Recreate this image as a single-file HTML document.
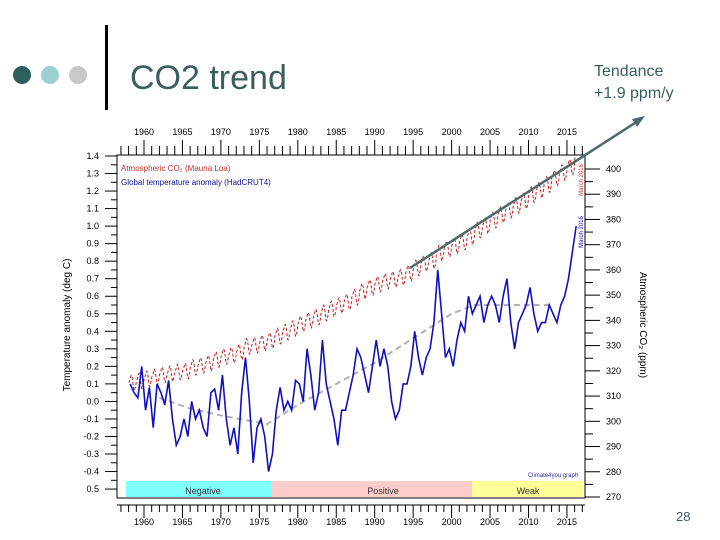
<!DOCTYPE html>
<html><head><meta charset="utf-8"><style>
body{margin:0;background:#fff;}
svg{display:block;font-family:"Liberation Sans",sans-serif;}
</style></head><body>
<svg id="s" width="720" height="540" viewBox="0 0 720 540">
<circle cx="22" cy="75" r="9" fill="#2e5e5e"/>
<circle cx="50" cy="75" r="9" fill="#9ccfd0"/>
<circle cx="78" cy="75" r="9" fill="#c8c8c8"/>
<rect x="105" y="25" width="3" height="85" fill="#000"/>
<text x="130" y="89" font-size="34" fill="#3a5e5e">CO2 trend</text>
<text x="594" y="76" font-size="16" fill="#3a5e5e">Tendance</text>
<text x="594" y="98" font-size="16" fill="#3a5e5e">+1.9 ppm/y</text>
<text x="676" y="521" font-size="13" fill="#3a5e5e">28</text>

<rect x="117" y="155" width="468" height="343" fill="none" stroke="#000" stroke-width="1"/>
<rect x="126" y="481" width="145" height="16" fill="#80ffff"/>
<rect x="271" y="481" width="201" height="16" fill="#ffcccc"/>
<rect x="472" y="481" width="111" height="16" fill="#ffff99"/>
<text x="203" y="494" font-size="9" text-anchor="middle" fill="#333">Negative</text>
<text x="383" y="494" font-size="9" text-anchor="middle" fill="#333">Positive</text>
<text x="528" y="494" font-size="9" text-anchor="middle" fill="#333">Weak</text>
<line x1="117" y1="505" x2="585" y2="505" stroke="#000"/>

<text x="121" y="171" font-size="8" fill="#c03030">Atmospheric CO₂ (Mauna Loa)</text>
<text x="121" y="185" font-size="8" fill="#1010a0">Global temperature anomaly (HadCRUT4)</text>
<text x="553" y="477" font-size="6" fill="#3030a0" text-anchor="middle">Climate4you graph</text>
<text transform="translate(583,180) rotate(-90)" font-size="6" fill="#c03030" text-anchor="middle">March 2016</text>
<text transform="translate(583,232) rotate(-90)" font-size="6" fill="#1010a0" text-anchor="middle">March 2016</text>
<text transform="translate(70,325) rotate(-90)" font-size="10" fill="#000" text-anchor="middle">Temperature anomaly (deg C)</text>
<text transform="translate(640,325) rotate(90)" font-size="10" fill="#000" text-anchor="middle">Atmospheric CO₂ (ppm)</text>
<g id="ax"></g>
<g id="marks"></g>
<line x1="410" y1="268" x2="638" y2="121" stroke="#4a6a6a" stroke-width="2.5"/>
<polygon points="645,116 632,119 637,127" fill="#4a6a6a"/>
</svg>
<script>
const co2Years=[1958,1959,1960,1961,1962,1963,1964,1965,1966,1967,1968,1969,1970,1971,1972,1973,1974,1975,1976,1977,1978,1979,1980,1981,1982,1983,1984,1985,1986,1987,1988,1989,1990,1991,1992,1993,1994,1995,1996,1997,1998,1999,2000,2001,2002,2003,2004,2005,2006,2007,2008,2009,2010,2011,2012,2013,2014,2015,2016];
const co2Annual=[315.3,316.0,316.9,317.6,318.5,318.9,319.6,320.0,321.4,322.2,323.1,324.6,325.7,326.3,327.5,329.7,330.2,331.1,332.1,333.8,335.4,336.8,338.7,340.1,341.4,343.0,344.6,346.0,347.4,349.2,351.6,353.1,354.4,355.6,356.4,357.1,358.8,360.8,362.6,363.7,366.7,368.4,369.6,371.1,373.2,375.8,377.5,379.8,381.9,383.8,385.6,387.4,389.9,391.6,393.9,396.5,398.6,400.8,404.2];
const co2Seasonal=[0,0.6,1.4,2.5,3,2.4,0.9,-1.2,-3,-3.1,-1.9,-0.8];
const tempStart=1958;
const tempValues=[0.10,0.05,0.02,0.20,-0.05,0.08,-0.15,0.10,0.05,-0.02,0.12,-0.10,-0.25,-0.20,-0.10,-0.20,0.00,-0.10,-0.05,-0.15,-0.20,0.05,0.07,-0.05,0.15,-0.10,-0.25,-0.15,-0.30,0.05,0.25,0.00,-0.35,-0.15,-0.10,-0.20,-0.40,-0.30,-0.05,0.08,-0.05,0.00,-0.05,0.12,0.10,0.00,0.30,0.15,-0.05,0.05,0.35,0.10,0.00,-0.10,-0.25,-0.05,-0.05,0.05,0.15,0.30,0.25,0.15,0.05,0.20,0.35,0.20,0.30,0.20,0.00,-0.10,-0.05,0.10,0.10,0.20,0.40,0.25,0.15,0.25,0.30,0.45,0.75,0.50,0.25,0.30,0.20,0.35,0.45,0.40,0.60,0.50,0.55,0.60,0.45,0.55,0.60,0.55,0.45,0.60,0.70,0.45,0.30,0.45,0.50,0.55,0.65,0.50,0.40,0.45,0.45,0.55,0.50,0.45,0.55,0.60,0.70,0.85,1.00];
const trendYears=[1962,1966,1970,1976,1980,1985,1990,1995,2000,2003,2008,2013];
const trendValues=[0.02,-0.04,-0.08,-0.13,-0.02,0.10,0.22,0.36,0.50,0.55,0.55,0.55];
const leftTicks=[1.4,1.3,1.2,1.1,1.0,0.9,0.8,0.7,0.6,0.5,0.4,0.3,0.2,0.1,0.0,-0.1,-0.2,-0.3,-0.4,-0.5];
const leftLabels=["1.4","1.3","1.2","1.1","1.0","0.9","0.8","0.7","0.6","0.5","0.4","0.3","0.2","0.1","0.0","-0.1","-0.2","-0.3","-0.4","0.5"];
const rightTicks=[400,390,380,370,360,350,340,330,320,310,300,290,280,270];
const yearTicks=[1960,1965,1970,1975,1980,1985,1990,1995,2000,2005,2010,2015];

const X=y=>144+(y-1960)*7.69;
const YT=v=>156+(1.4-v)*175.3;
const YC=c=>169+(400-c)*2.523;
const NS='http://www.w3.org/2000/svg';
const ax=document.getElementById('ax'), mk=document.getElementById('marks');
function mkEl(tag,attrs,parent,txt){const e=document.createElementNS(NS,tag);for(const k in attrs)e.setAttribute(k,attrs[k]);if(txt!==undefined)e.textContent=txt;parent.appendChild(e);return e;}

leftTicks.forEach((v,i)=>{
  const l=mkEl('line',{x1:105,x2:117,y1:YT(v),y2:YT(v),stroke:'#000'},ax);
  
  
  if(i<leftTicks.length-1){const m=mkEl('line',{x1:111,x2:117,y1:YT(v-0.05),y2:YT(v-0.05),stroke:'#000'},ax);
  
  }
  const t=mkEl('text',{x:99,y:YT(v)+3,'font-size':9,'text-anchor':'end'},ax,leftLabels[i]);
  
  
});
rightTicks.forEach((c,i)=>{
  const l=mkEl('line',{x1:585,x2:600,y1:YC(c),y2:YC(c),stroke:'#000'},ax);
  
  
  if(i<rightTicks.length-1){const m=mkEl('line',{x1:585,x2:593,y1:YC(c-5),y2:YC(c-5),stroke:'#000'},ax);
  
  }
  const t=mkEl('text',{x:606,y:YC(c)+3,'font-size':9},ax,String(c));
  
  
});
for(let yr=1957;yr<=2017;yr++){
  const major=yr%5===0;
  const a=mkEl('line',{x1:X(yr),x2:X(yr),y1:major?140:146,y2:155,stroke:'#000'},ax);
  
  
  const b=mkEl('line',{x1:X(yr),x2:X(yr),y1:505,y2:major?518:512,stroke:'#000'},ax);
  
  
}
yearTicks.forEach(yr=>{
  const t=mkEl('text',{x:X(yr),y:135,'font-size':9,'text-anchor':'middle'},ax,String(yr));
  
  
  const b=mkEl('text',{x:X(yr),y:525,'font-size':9,'text-anchor':'middle'},ax,String(yr));
  
  
});
// trend
const tr=mkEl('polyline',{points:trendYears.map((y,i)=>X(y)+','+YT(trendValues[i])).join(' '),fill:'none',stroke:'#b0b0b0','stroke-width':2,'stroke-dasharray':'6,4'},mk);


// co2
let pts=[];
co2Annual.forEach((v,i)=>{for(let m=0;m<12;m++){const t=co2Years[i]+ (m+0.3)/12; if(co2Years[i]===2016&&m>2)break; pts.push(X(t)+','+YC(v+co2Seasonal[m]));}});
const co=mkEl('polyline',{points:pts.join(' '),fill:'none',stroke:'#c02020','stroke-width':1,'stroke-dasharray':'3,2'},mk);


// temperature
const tp=mkEl('polyline',{points:tempValues.map((v,i)=>X(tempStart+i*0.5+0.2)+','+YT(v)).join(' '),fill:'none',stroke:'#1010c0','stroke-width':1.6},mk);


</script>
</body></html>
